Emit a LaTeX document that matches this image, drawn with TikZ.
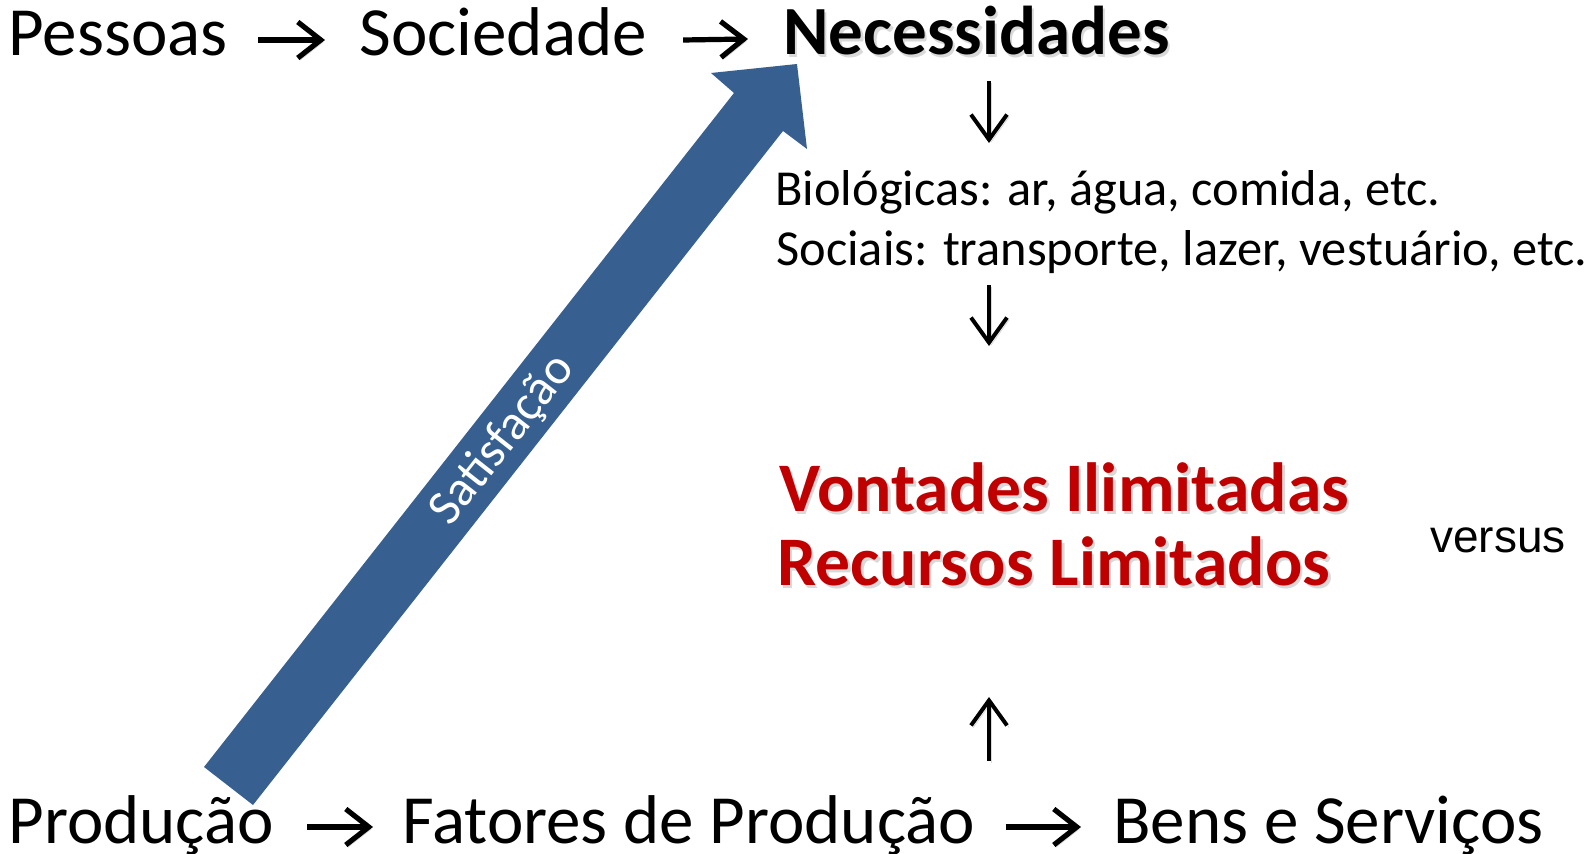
\documentclass[tikz,border=0pt]{standalone}
\usepackage{fontspec}
\setmainfont{Carlito}
\newfontfamily\arialfont{Liberation Sans}
\usetikzlibrary{arrows.meta,calc}
\definecolor{satblue}{RGB}{55,96,145}
\definecolor{vred}{RGB}{192,0,0}
\tikzset{
  txt/.style={anchor=base west, inner sep=0pt, font=\fontsize{34.5}{40}\selectfont},
  small/.style={anchor=base west, inner sep=0pt, font=\fontsize{25.2}{30}\selectfont},
  redtxt/.style={anchor=base west, inner sep=0pt, text=vred, font=\fontsize{34.8}{40}\bfseries\selectfont},
  shadowtxt/.style={anchor=base west, inner sep=0pt, text=black, opacity=0.15},
  harr/.style={line width=2.6pt, -{Straight Barb[length=11.5pt,width=18pt]},
    preaction={draw=black, opacity=0.15, transform canvas={shift={(1.1pt,-1.1pt)}}}},
  varr/.style={line width=2pt, -{Straight Barb[length=12.5pt,width=18pt]},
    preaction={draw=black, opacity=0.15, transform canvas={shift={(1.1pt,-1.1pt)}}}}
}
\begin{document}
\begin{tikzpicture}[x=0.5pt,y=-0.5pt]
\useasboundingbox (0,0) rectangle (1596,854);
\fill[white] (0,0) rectangle (1596,854);

% big block arrow "Satisfacao"
\fill[satblue] (204,767) -- (734,93) -- (711,73) -- (797,64) -- (807,149) -- (783,131) -- (253,805) -- cycle;
\node[text=white, rotate=51.8, inner sep=0pt, font=\fontsize{25}{30}\selectfont] (sat) at (503,440) {Satisfação};

% top line
\node[txt] (pessoas) at (8,56) {Pessoas};
\node[txt] (sociedade) at (359,56) {Sociedade};
\node[shadowtxt, font=\fontsize{34.5}{40}\bfseries\selectfont] at (785.5,57.5) {Necessidades};
\node[txt, font=\fontsize{34.5}{40}\bfseries\selectfont] (necess) at (783,55) {Necessidades};

% needs
\node[small] (bio) at (775,206) {Biológicas: ar, água, comida, etc.};
\node[small] (soc) at (776,266) {Sociais: transporte, lazer, vestuário, etc.};

% red texts
\node[shadowtxt, font=\fontsize{34.8}{40}\bfseries\selectfont] at (781.5,514.5) {Vontades Ilimitadas};
\node[redtxt] (vont) at (779,512) {Vontades Ilimitadas};
\node[shadowtxt, font=\fontsize{34.8}{40}\bfseries\selectfont] at (779.5,588.5) {Recursos Limitados};
\node[redtxt] (recursos) at (777,586) {Recursos Limitados};
\node[anchor=base west, inner sep=0pt, font=\arialfont\fontsize{23}{28}\selectfont] (versus) at (1430,553) {versus};

% bottom line
\node[txt] (producao) at (8,843) {Produção};
\node[txt] (fatores) at (402,843) {Fatores de Produção};
\node[txt] (bens) at (1113,843) {Bens e Serviços};

% vertical axis for arrows
\coordinate (ax) at (989,0);

% horizontal arrows
\draw[harr] ($(pessoas.base east)+(30,-16)$) -- ($(sociedade.base west)+(-34,-16)$);
\draw[harr] ($(sociedade.base east)+(36,-16)$) -- ($(necess.base west)+(-35,-16)$);
\draw[harr] ($(producao.base east)+(33,-16)$) -- ($(fatores.base west)+(-29,-16)$);
\draw[harr] ($(fatores.base east)+(30,-16)$) -- ($(bens.base west)+(-32,-16)$);

% vertical arrows
\draw[varr] ($(necess.base -| ax)+(0,26)$) -- ($(bio.base -| ax)+(0,-63)$);
\draw[varr] ($(soc.base -| ax)+(0,19)$) -- ($(vont.base -| ax)+(0,-166)$);
\draw[varr] ($(fatores.base -| ax)+(0,-82)$) -- ($(recursos.base -| ax)+(0,111)$);
\end{tikzpicture}
\end{document}
